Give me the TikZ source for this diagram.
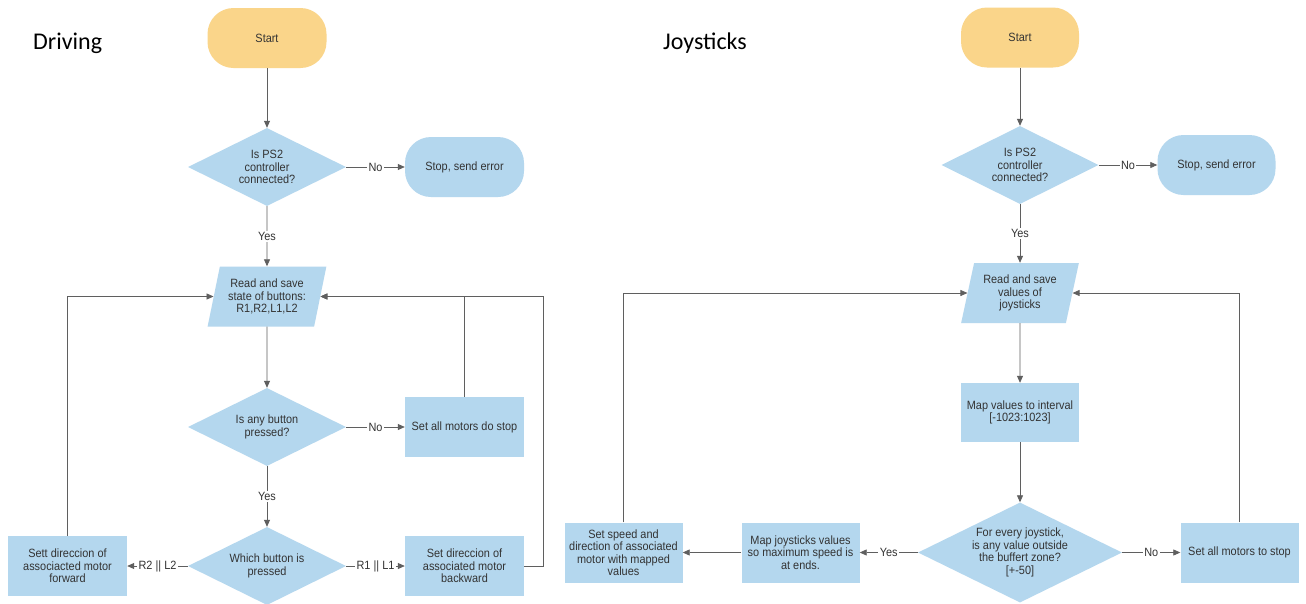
\documentclass[tikz,border=0pt]{standalone}
\usepackage{fontspec}
\setmainfont{Liberation Sans}[FakeStretch=0.91]
\newfontfamily\titlefont{Carlito}
\usetikzlibrary{shapes.geometric,arrows.meta}
\definecolor{fcblue}{RGB}{180,215,238}
\definecolor{fcyellow}{RGB}{250,213,138}
\definecolor{fctext}{RGB}{51,51,51}
\definecolor{fcline}{RGB}{95,95,95}
\begin{document}
\begin{tikzpicture}[x=1pt,y=-1pt,
  every node/.style={font=\fontsize{12}{12.5}\selectfont, text=fctext, align=center, inner sep=0pt},
  term/.style={rectangle, rounded corners=26pt, minimum width=119pt, minimum height=60pt},
  procbox/.style={rectangle, fill=fcblue, minimum width=119pt, minimum height=60pt},
  decision/.style={diamond, fill=fcblue, aspect=2, minimum width=158pt, minimum height=78pt},
  io/.style={trapezium, trapezium left angle=74, trapezium right angle=106, trapezium stretches=true, fill=fcblue, minimum width=119pt, minimum height=60pt},
  arr/.style={draw=fcline, line width=0.8pt, -{Triangle[width=6pt,length=7pt]}},
  lab/.style={fill=white, inner sep=1.5pt},
  title/.style={font=\titlefont\fontsize{24}{26}\selectfont, text=black, anchor=base west}
]
\useasboundingbox (0,0) rectangle (1306,603);
\fill[white] (0,0) rectangle (1306,603);

% ---------------- Driving ----------------
\node[title] (tA) at (33,49) {Driving};
\node[term, fill=fcyellow] (startA) at (267,38) {Start};
\node[decision] (ps2A) at (267,167) {Is PS2\\controller\\connected?};
\node[term, fill=fcblue] (errA) at (464.5,167) {Stop, send error};
\node[io] (readA) at (267,296.5) {Read and save\\state of buttons:\\R1,R2,L1,L2};
\node[decision] (anyA) at (267,427) {Is any button\\pressed?};
\node[procbox] (stopA) at (464.5,427) {Set all motors do stop};
\node[decision] (whichA) at (267,566) {Which button is\\pressed};
\node[procbox] (fwdA) at (67.5,566) {Sett direccion of\\associacted motor\\forward};
\node[procbox] (backA) at (464.5,566) {Set direccion of\\associated motor\\backward};

\draw[arr] (startA) -- (ps2A);
\draw[arr] (ps2A) -- node[lab]{No} (errA);
\draw[arr] (ps2A) -- node[lab]{Yes} (readA);
\draw[arr] (readA) -- (anyA);
\draw[arr] (anyA) -- node[lab]{No} (stopA);
\draw[arr] (anyA) -- node[lab]{Yes} (whichA);
\draw[arr] (whichA) -- node[lab]{R2 || L2} (fwdA);
\draw[arr] (whichA) -- node[lab]{R1 || L1} (backA);
\draw[arr] (fwdA.north) |- (readA);
\draw[arr] (stopA.north) |- (readA);
\draw[arr] (backA.east) -- ++(19,0) |- (readA);

% ---------------- Joysticks ----------------
\node[title] (tB) at (663,49) {Joysticks};
\node[term, fill=fcyellow, minimum width=118pt] (startB) at (1020,37.5) {Start};
\node[decision, minimum width=157pt] (ps2B) at (1020,165) {Is PS2\\controller\\connected?};
\node[term, fill=fcblue, minimum width=118pt] (errB) at (1216.5,165) {Stop, send error};
\node[io, minimum width=118pt] (readB) at (1020,293) {Read and save\\values of\\joysticks};
\node[procbox, minimum width=118.5pt, minimum height=59pt] (mapB) at (1020,412.5) {Map values to interval\\{}[-1023:1023]};
\node[decision, minimum width=204pt, minimum height=100pt] (buffB) at (1020,552.5) {For every joystick,\\is any value outside\\the buffert zone?\\{}[+-50]};
\node[procbox, minimum width=118pt] (stopB) at (1239.5,552.5) {Set all motors to stop};
\node[procbox, minimum width=118pt] (mapjB) at (800.5,552.5) {Map joysticks values\\so maximum speed is\\at ends.};
\node[procbox, minimum width=118pt] (speedB) at (623.5,552.5) {Set speed and\\direction of associated\\motor with mapped\\values};

\draw[arr] (startB) -- (ps2B);
\draw[arr] (ps2B) -- node[lab]{No} (errB);
\draw[arr] (ps2B) -- node[lab]{Yes} (readB);
\draw[arr] (readB) -- (mapB);
\draw[arr] (mapB) -- (buffB);
\draw[arr] (buffB) -- node[lab]{No} (stopB);
\draw[arr] (buffB) -- node[lab]{Yes} (mapjB);
\draw[arr] (mapjB) -- (speedB);
\draw[arr] (speedB.north) |- (readB);
\draw[arr] (stopB.north) |- (readB);
\end{tikzpicture}
\end{document}
